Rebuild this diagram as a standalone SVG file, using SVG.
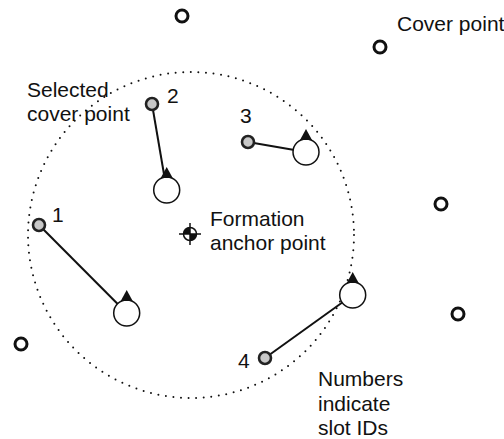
<svg xmlns="http://www.w3.org/2000/svg" width="504" height="439" viewBox="0 0 504 439">
<style>
text{font-family:"Liberation Sans",Arial,sans-serif;font-size:21px;fill:#111}
.cover{fill:#fff;stroke:#111;stroke-width:3}
.sel{fill:#c8c8c8;stroke:#222;stroke-width:2.6}
.slot{fill:#fff;stroke:#111;stroke-width:1.5}
.link{stroke:#111;stroke-width:2;fill:none}
.arrow{fill:#111}
.range{fill:none;stroke:#111;stroke-width:2;stroke-linecap:round;stroke-dasharray:0 7.6}
</style>
<defs>
<path id="tri" d="M0,-23 L6,-12 L-6,-12 Z"/>
</defs>
<g id="range"><circle class="range" cx="191" cy="235" r="163"/></g>
<g id="connectors">
<line class="link" x1="39" y1="225" x2="126.7" y2="313"/>
<line class="link" x1="152" y1="104" x2="166.7" y2="190"/>
<line class="link" x1="248" y1="142" x2="306" y2="152"/>
<line class="link" x1="265" y1="358" x2="352.7" y2="295"/>
</g>
<g id="cover-points">
<circle class="cover" cx="182" cy="16" r="6"/>
<circle class="cover" cx="380" cy="47" r="6"/>
<circle class="cover" cx="441" cy="204" r="6"/>
<circle class="cover" cx="458" cy="314" r="6"/>
<circle class="cover" cx="21" cy="344" r="6"/>
</g>
<g id="selected-1"><circle class="sel" cx="39" cy="225" r="6"/><text x="52" y="222">1</text></g>
<g id="selected-2"><circle class="sel" cx="152" cy="104" r="6"/><text x="167" y="103">2</text></g>
<g id="selected-3"><circle class="sel" cx="248" cy="142" r="6"/><text x="240" y="123">3</text></g>
<g id="selected-4"><circle class="sel" cx="265" cy="358" r="6"/><text x="238" y="368">4</text></g>
<g id="slot-1"><circle class="slot" cx="126.7" cy="313" r="13"/><use href="#tri" class="arrow" x="126.7" y="313"/></g>
<g id="slot-2"><circle class="slot" cx="166.7" cy="190" r="13"/><use href="#tri" class="arrow" x="166.7" y="190"/></g>
<g id="slot-3"><circle class="slot" cx="306" cy="152" r="13"/><use href="#tri" class="arrow" x="306" y="152"/></g>
<g id="slot-4"><circle class="slot" cx="352.7" cy="295" r="13"/><use href="#tri" class="arrow" x="352.7" y="295"/></g>
<g id="anchor">
<circle cx="190" cy="234" r="6.5" fill="#fff" stroke="#111" stroke-width="1.5"/>
<path d="M190,234 L183.5,234 A6.5,6.5 0 0 1 190,227.5 Z M190,234 L196.5,234 A6.5,6.5 0 0 1 190,240.5 Z" fill="#111"/>
<line x1="179" y1="234" x2="201" y2="234" stroke="#111" stroke-width="1.5"/>
<line x1="190" y1="223" x2="190" y2="245" stroke="#111" stroke-width="1.5"/>
<text x="210" y="226">Formation</text>
<text x="210" y="250">anchor point</text>
</g>
<g id="labels">
<text x="397" y="31">Cover point</text>
<text x="27" y="97">Selected</text>
<text x="27" y="121">cover point</text>
<text x="318" y="386">Numbers</text>
<text x="318" y="411">indicate</text>
<text x="318" y="435">slot IDs</text>
</g>
</svg>
